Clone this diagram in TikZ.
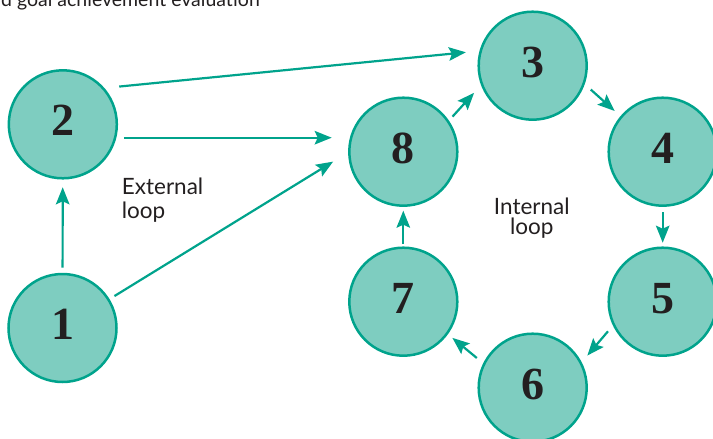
\documentclass[tikz,border=0pt]{standalone}
\usepackage{fontspec}
\setmainfont{Lato}
\newfontfamily\digitfont{Liberation Serif}
\usetikzlibrary{arrows.meta}
\definecolor{tealfill}{RGB}{126,205,192}
\definecolor{tealline}{RGB}{0,163,140}
\definecolor{txt}{RGB}{35,31,32}
\begin{document}
\begin{tikzpicture}[x=1pt,y=-1pt,
  stage/.style={circle, draw=tealline, fill=tealfill, line width=2.5pt,
    minimum size=108pt, inner sep=0pt, outer sep=0pt,
    font=\digitfont\bfseries\fontsize{46}{46}\selectfont, text=txt,
    text height=31pt, text depth=8pt},
  flow/.style={draw=tealline, line width=2.2pt,
    -{Stealth[length=17pt,width=13.5pt,inset=3pt]}},
  lbl/.style={text=txt, inner sep=0pt}]
\useasboundingbox (0,0) rectangle (713,439);
\clip (0,0) rectangle (713,439);
\node[lbl, anchor=base west, font=\fontsize{19.5}{22}\selectfont] (title) at (1,6.5) {d goal achievement evaluation};
\node[stage] (n1) at (62.5,328) {1};
\node[stage] (n2) at (62.8,124.3) {2};
\node[stage] (n3) at (532.7,65.7) {3};
\node[stage] (n4) at (662.7,151.7) {4};
\node[stage] (n5) at (662.7,301.7) {5};
\node[stage] (n6) at (532.7,387.7) {6};
\node[stage] (n7) at (403.3,301.7) {7};
\node[stage] (n8) at (403.3,151.7) {8};
\node[lbl, anchor=north west, align=left, font=\fontsize{22.5}{24.5}\selectfont] (ext) at (121.7,177.4) {External\\loop};
\node[lbl, anchor=north, align=center, font=\fontsize{22.5}{20.5}\selectfont] (int) at (531.8,197.7) {Internal\\loop};
\coordinate (h) at (0,137.7);
\draw[flow, shorten <=6.3pt, shorten >=9pt] (n1) -- (n2);
\draw[flow, shorten <=7pt, shorten >=19pt] (n1) -- (n8.west);
\draw[flow, shorten <=7pt, shorten >=17.6pt] (n2.east |- h) -- (n8.west |- h);
\draw[flow, shorten <=16.4pt, shorten >=15pt] (n2.42) -- (n3.164);
\draw[flow, shorten <=6.6pt, shorten >=11.7pt] (n8.34) -- (n3.200);
\draw[flow, shorten <=9.4pt, shorten >=9pt] (n3.341) -- (n4.140);
\draw[flow, shorten <=6.6pt, shorten >=5pt] (n4) -- (n5);
\draw[flow, shorten <=8.9pt, shorten >=10pt] (n5.205) -- (n6.27);
\draw[flow, shorten <=9.5pt, shorten >=7pt] (n6.154) -- (n7.324);
\draw[flow, shorten <=4pt, shorten >=5pt] (n7) -- (n8);
\end{tikzpicture}
\end{document}
